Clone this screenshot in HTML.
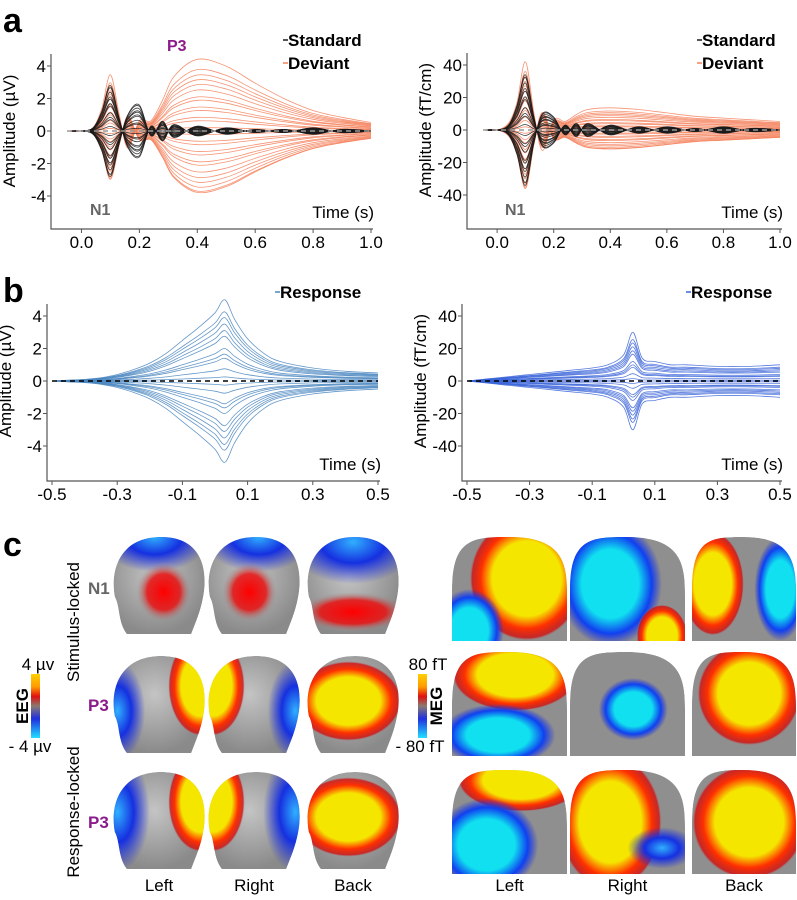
<!DOCTYPE html>
<html><head><meta charset="utf-8"><style>
body{margin:0;background:#fff;}
svg{display:block;font-family:"Liberation Sans",Arial,sans-serif;}
</style></head><body>
<svg id="fig" width="797" height="900" viewBox="0 0 797 900">
<defs id="defs">
<linearGradient id="cbar" x1="0" y1="0" x2="0" y2="1">
<stop offset="0" stop-color="#ffd000"/><stop offset="0.2" stop-color="#ff9a00"/><stop offset="0.35" stop-color="#e01010"/><stop offset="0.5" stop-color="#8a7a70"/><stop offset="0.7" stop-color="#2030e0"/><stop offset="1" stop-color="#20e0ff"/></linearGradient>
<radialGradient id="yel" cx="0.5" cy="0.5" r="0.5"><stop offset="0.6" stop-color="#f5e600"/><stop offset="0.8" stop-color="#ff3000"/><stop offset="0.95" stop-color="#d01010" stop-opacity="0.8"/><stop offset="1" stop-color="#999" stop-opacity="0"/></radialGradient>
<radialGradient id="red" cx="0.5" cy="0.5" r="0.5"><stop offset="0" stop-color="#f00"/><stop offset="0.6" stop-color="#e81010" stop-opacity="0.85"/><stop offset="1" stop-color="#999" stop-opacity="0"/></radialGradient>
<radialGradient id="blu" cx="0.5" cy="0.5" r="0.5"><stop offset="0" stop-color="#30b0ff"/><stop offset="0.5" stop-color="#1530e0"/><stop offset="1" stop-color="#2030e0" stop-opacity="0"/></radialGradient>
<radialGradient id="cyan" cx="0.5" cy="0.5" r="0.5"><stop offset="0.55" stop-color="#10e0f0"/><stop offset="0.8" stop-color="#1040f0"/><stop offset="1" stop-color="#2030e0" stop-opacity="0"/></radialGradient>
<radialGradient id="head" cx="0.45" cy="0.4" r="0.6"><stop offset="0" stop-color="#c4c4c4"/><stop offset="1" stop-color="#8a8a8a"/></radialGradient>
</defs>
<g id="charts"></g>
<g id="topo"></g>
</svg>
<script>
// ---------- data ----------
const eegStdTimes=[-0.05,0,0.04,0.07,0.1,0.13,0.16,0.2,0.24,0.28,0.32,0.4,0.5,0.6,0.7,0.8,0.9,1.0];
const eegStdTemplate=[0,0,0.2,1.2,2.8,0.8,-1.0,-1.6,0.3,-0.6,0.4,-0.3,0.2,-0.1,0.1,-0.2,0.1,0];
const eegDevTemplate=[0,0,0.2,1.3,3.3,1.0,-1.0,0.6,0.6,1.8,3.2,4.2,3.8,2.8,1.9,1.2,0.8,0.5];
const stdGains=[1,0.85,0.7,0.55,0.4,0.25,0.1,-0.1,-0.25,-0.4,-0.55,-0.7,-0.85,-1,0.95,-0.95,0.6,-0.6,0.3,-0.3,0.75,-0.75];
const devGains=[1.05,0.9,0.75,0.6,0.45,0.3,0.15,0.05,-0.05,-0.15,-0.3,-0.45,-0.6,-0.75,-0.9,-0.88,0.68,-0.68,0.35,-0.35,0.82,-0.82,0.5,-0.5,0.2,-0.2];
const megStdTemplate=[0,0,3,15,34,8,-10,-8,3,-4,4,-3,2,-2,1,-2,1,0];
const megDevTemplate=[0,0,4,16,40,10,-12,6,5,9,12,13,12,10,8,7,6,5];
const respTimes=[-0.5,-0.45,-0.4,-0.35,-0.3,-0.25,-0.2,-0.15,-0.1,-0.05,0,0.03,0.06,0.1,0.15,0.2,0.3,0.4,0.5];
const eegRespTemplate=[0,0.05,0.1,0.2,0.4,0.7,1.1,1.7,2.5,3.3,4.2,5.0,3.8,2.6,1.7,1.2,0.8,0.6,0.5];
const megRespTemplate=[0,1,2,3,4,5,6,7,8,10,16,30,14,12,10,10,9,9,10];
const respGains=[1,0.85,0.7,0.55,0.4,0.28,0.15,0.05,-0.05,-0.15,-0.28,-0.4,-0.55,-0.7,-0.85,-1,0.62,-0.62,0.33,-0.33,0.78,-0.78];
const ticksA=["0.0","0.2","0.4","0.6","0.8","1.0"], ticksAv=[0,0.2,0.4,0.6,0.8,1.0];
const ticksB=["-0.5","-0.3","-0.1","0.1","0.3","0.5"], ticksBv=[-0.5,-0.3,-0.1,0.1,0.3,0.5];
const eegY=[4,2,0,-2,-4], megY=[40,20,0,-20,-40];

const NS="http://www.w3.org/2000/svg";
const charts=document.getElementById('charts');
const defs=document.getElementById('defs');
function mk(tag,attrs,parent,text){const e=document.createElementNS(NS,tag);for(const k in attrs)e.setAttribute(k,attrs[k]);if(text!==undefined)e.textContent=text;(parent||charts).appendChild(e);return e;}
function smooth(P){let d=`M${P[0][0].toFixed(1)},${P[0][1].toFixed(1)}`;
  for(let i=0;i<P.length-1;i++){const p0=P[Math.max(0,i-1)],p1=P[i],p2=P[i+1],p3=P[Math.min(P.length-1,i+2)];
    d+=` C${(p1[0]+(p2[0]-p0[0])/6).toFixed(1)},${(p1[1]+(p2[1]-p0[1])/6).toFixed(1)} ${(p2[0]-(p3[0]-p1[0])/6).toFixed(1)},${(p2[1]-(p3[1]-p1[1])/6).toFixed(1)} ${p2[0].toFixed(1)},${p2[1].toFixed(1)}`;}
  return d;}

function chart(o){
  const g=mk('g',{});
  
  
  const xs=t=>o.x0+(t-o.t0)*(o.x1-o.x0)/(o.t1-o.t0);
  const ys=v=>o.yz-v*(o.yz-o.ytop)/o.ymax;
  o.series.forEach(s=>{
    s.gains.forEach((gn,i)=>{
      const P=s.times.map((t,j)=>[xs(t),ys(s.tpl[j]*gn)]);
      const p=mk('path',{d:smooth(P),fill:'none',stroke:s.color,'stroke-width':0.8,'stroke-opacity':0.85},g);
      
      
    });
  });
  const z=mk('line',{x1:xs(o.t0),x2:xs(o.t1),y1:ys(0),y2:ys(0),stroke:o.zc||'#000','stroke-width':1.4,'stroke-dasharray':'5,4'},g);
  
  
  const ax=mk('path',{d:`M${o.sx},${o.ytop-12}V${o.by}H${o.x1+2}`,fill:'none',stroke:'#555','stroke-width':1.2},g);
  
  
  o.yt.forEach(v=>{
    mk('line',{x1:o.sx-4,x2:o.sx,y1:ys(v),y2:ys(v),stroke:'#555'},g);
    const t=mk('text',{x:o.sx-5,y:ys(v)+6,'text-anchor':'end','font-size':17},g,String(v));
    
    
  });
  o.xv.forEach((v,i)=>{
    mk('line',{x1:xs(v),x2:xs(v),y1:o.by,y2:o.by+4,stroke:'#555'},g);
    const t=mk('text',{x:xs(v),y:o.by+19,'text-anchor':'middle','font-size':17},g,o.xl[i]);
    
    
  });
  const yt=mk('text',{transform:`translate(${o.sx-36},${ys(0)}) rotate(-90)`,'text-anchor':'middle','font-size':17},g,o.ylab);
  
  
  const xt=mk('text',{x:o.x1+3,y:o.by-11,'text-anchor':'end','font-size':17},g,'Time (s)');
  
  
  o.legend.forEach((l,i)=>{
    mk('line',{x1:o.lx,x2:o.lx+5,y1:o.ly+i*23-6,y2:o.ly+i*23-6,stroke:l[1],'stroke-width':1.5},g);
    const t=mk('text',{x:o.lx+5,y:o.ly+i*23,'font-size':17,'font-weight':'bold'},g,l[0]);
    
    
  });
  (o.notes||[]).forEach(n=>{
    const t=mk('text',{x:n[1],y:n[2],'font-size':16,'font-weight':'bold',fill:n[3]},g,n[0]);
    
    
  });
}
const STD='#1a1a1a',DEV='#f4805a';
chart({name:'eeg-stimulus-chart',x0:67,x1:371,t0:-0.05,t1:1.0,yz:131,ytop:66,ymax:4,sx:51,by:229,yt:eegY,xv:ticksAv,xl:ticksA,ylab:'Amplitude (µV)',zc:'#999',
  series:[{key:'deviant',times:eegStdTimes,tpl:eegDevTemplate,gains:devGains,color:DEV},{key:'standard',times:eegStdTimes,tpl:eegStdTemplate,gains:stdGains,color:STD}],
  lx:283,ly:46,legend:[['Standard',STD],['Deviant',DEV]],notes:[['P3',167,51,'#8b1a8b'],['N1',90,215,'#666']]});
chart({name:'meg-stimulus-chart',x0:483,x1:780,t0:-0.05,t1:1.0,yz:130,ytop:65,ymax:40,sx:467,by:229,yt:megY,xv:ticksAv,xl:ticksA,ylab:'Amplitude (fT/cm)',zc:'#999',
  series:[{key:'deviant',times:eegStdTimes,tpl:megDevTemplate,gains:devGains,color:DEV},{key:'standard',times:eegStdTimes,tpl:megStdTemplate,gains:stdGains,color:STD}],
  lx:697,ly:46,legend:[['Standard',STD],['Deviant',DEV]],notes:[['N1',505,215,'#666']]});
chart({name:'eeg-response-chart',x0:52,x1:378,t0:-0.5,t1:0.5,yz:381,ytop:316,ymax:4,sx:47,by:481,yt:eegY,xv:ticksBv,xl:ticksB,ylab:'Amplitude (µV)',
  series:[{key:'response',times:respTimes,tpl:eegRespTemplate,gains:respGains,color:'#4a86c0'}],
  lx:275,ly:298,legend:[['Response','#4a86c0']]});
chart({name:'meg-response-chart',x0:467,x1:780,t0:-0.5,t1:0.5,yz:381,ytop:316,ymax:40,sx:462,by:481,yt:megY,xv:ticksBv,xl:ticksB,ylab:'Amplitude (fT/cm)',
  series:[{key:'response',times:respTimes,tpl:megRespTemplate,gains:respGains,color:'#3a64d8'}],
  lx:686,ly:298,legend:[['Response','#3a64d8']]});
[['a',3,32],['b',3,302],['c',3,556]].forEach(l=>{const t=mk('text',{x:l[1],y:l[2],'font-size':34,'font-weight':'bold'},charts,l[0]);
  
  });

// ---------- topographies ----------
const topo=document.getElementById('topo');
function T(tag,a,text,par){return mk(tag,a,par||topo,text);}
let cid=0;
function clipped(d,fill,blobs,x,y,w,h){
  const id='cp'+(cid++);
  const cp=mk('clipPath',{id:id},defs);
  mk('path',{d:d},cp);
  const g=T('g',{'clip-path':`url(#${id})`});
  T('path',{d:d,fill:fill},undefined,g);
  blobs.forEach(b=>T('ellipse',{cx:x+b[1]*w,cy:y+b[2]*h,rx:b[3]*w,ry:b[4]*h,fill:`url(#${b[0]})`},undefined,g));
}
function eegHead(x,y,w,h,blobs){
  const d=`M${x+w*0.15},${y+h*0.97} C${x+w*0.05},${y+h*0.85} ${x+w*0.08},${y+h*0.7} ${x+w*0.02},${y+h*0.6} C${x-w*0.04},${y+h*0.3} ${x+w*0.1},${y} ${x+w*0.52},${y} C${x+w*0.95},${y} ${x+w*1.04},${y+h*0.3} ${x+w*0.98},${y+h*0.6} C${x+w*0.95},${y+h*0.75} ${x+w*0.9},${y+h*0.85} ${x+w*0.85},${y+h*0.97} Z`;
  clipped(d,'url(#head)',blobs,x,y,w,h);
}
const EW=92,EH=100;
const ecols=[113,208,307], erows=[537,656,772];
const eegBlobs=[
 [[['blu',0.45,0.0,0.6,0.35],['red',0.55,0.55,0.3,0.3]],[['blu',0.55,0.0,0.6,0.35],['red',0.45,0.55,0.3,0.3]],[['blu',0.5,0.05,0.7,0.42],['red',0.5,0.75,0.6,0.2]]],
 [[['blu',0.05,0.55,0.3,0.5],['yel',0.95,0.3,0.35,0.5]],[['blu',0.95,0.55,0.3,0.5],['yel',0.05,0.3,0.35,0.5]],[['yel',0.45,0.45,0.58,0.4]]],
 [[['blu',0.05,0.4,0.35,0.6],['yel',0.95,0.3,0.35,0.5]],[['blu',0.95,0.4,0.35,0.6],['yel',0.05,0.3,0.35,0.5]],[['yel',0.45,0.45,0.58,0.4]]]];
erows.forEach((ry,r)=>ecols.forEach((cx,c)=>eegHead(cx,ry,EW,EH,eegBlobs[r][c])));
function megImg(x,y,w,h,blobs){
  const d=`M${x},${y+h} V${y+h*0.5} C${x},${y} ${x+w*0.2},${y} ${x+w*0.5},${y} C${x+w},${y} ${x+w},${y+h*0.3} ${x+w},${y+h*0.6} V${y+h} Z`;
  clipped(d,'#8f8f8f',blobs,x,y,w,h);
}
const mcols=[452,570,692], mrows=[537,652,770], MW=[115,115,104], MH=104;
const megBlobs=[
 [[['yel',0.65,0.4,0.5,0.6],['cyan',0.15,0.9,0.3,0.4]],[['cyan',0.35,0.45,0.45,0.6],['yel',0.8,0.95,0.22,0.3]],[['yel',0.2,0.45,0.3,0.5],['cyan',0.85,0.5,0.25,0.5]]],
 [[['yel',0.55,0.22,0.55,0.35],['cyan',0.4,0.8,0.5,0.3]],[['cyan',0.55,0.55,0.3,0.3]],[['yel',0.55,0.4,0.5,0.5]]],
 [[['yel',0.6,0.1,0.55,0.3],['cyan',0.3,0.72,0.45,0.45]],[['yel',0.35,0.5,0.45,0.65],['blu',0.8,0.75,0.3,0.2]],[['yel',0.55,0.5,0.55,0.55]]]];
mrows.forEach((ry,r)=>mcols.forEach((cx,c)=>megImg(cx,ry,MW[c],MH,megBlobs[r][c])));
function lab(txt,x,y,a,name,extra){const t=T('text',Object.assign({x:x,y:y,'font-size':17,'text-anchor':a||'middle'},extra||{}),txt);
  
  }
['Left','Right','Back'].forEach((s,i)=>{lab(s,ecols[i]+46,891,'middle','view-label');lab(s,mcols[i]+MW[i]/2,891,'middle','view-label');});
lab('N1',88,594,'start','n1-row-label',{'font-weight':'bold',fill:'#666'});
lab('P3',88,711,'start','p3-row-label',{'font-weight':'bold',fill:'#8b1a8b'});
lab('P3',88,828,'start','p3-row-label',{'font-weight':'bold',fill:'#8b1a8b'});
lab('Stimulus-locked',0,0,'middle','stimulus-locked-label',{transform:'translate(79,622) rotate(-90)'});
lab('Response-locked',0,0,'middle','response-locked-label',{transform:'translate(79,812) rotate(-90)'});
T('rect',{x:31,y:674,width:9,height:64,fill:'url(#cbar)'});
T('rect',{x:418,y:674,width:9,height:64,fill:'url(#cbar)'});
lab('4 µv',38,670,'middle','eeg-colorbar-max');
lab('- 4 µv',30,752,'middle','eeg-colorbar-min');
lab('EEG',0,0,'middle','eeg-colorbar-title',{transform:'translate(28,706) rotate(-90)','font-weight':'bold'});
lab('80 fT',428,670,'middle','meg-colorbar-max');
lab('- 80 fT',420,752,'middle','meg-colorbar-min');
lab('MEG',0,0,'middle','meg-colorbar-title',{transform:'translate(442,706) rotate(-90)','font-weight':'bold'});
</script>
</body></html>
